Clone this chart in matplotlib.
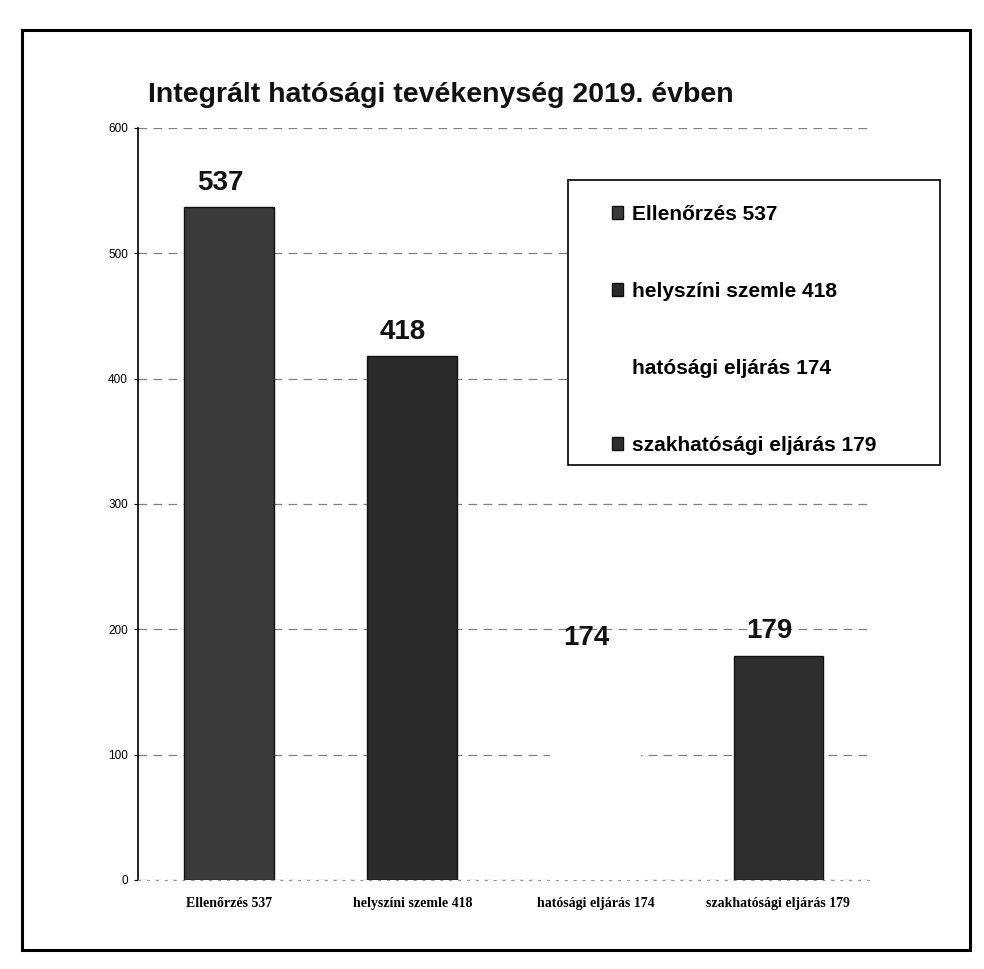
import matplotlib.pyplot as plt
from matplotlib.patches import Rectangle

# Activity counts for 2019
categories = ['Ellenőrzés 537', 'helyszíni szemle 418',
              'hatósági eljárás 174', 'szakhatósági eljárás 179']
values = [537, 418, 174, 179]
yticks = [0, 100, 200, 300, 400, 500, 600]

bar_colors = ['#3a3a3a', '#2a2a2a', 'white', '#2e2e2e']
edge_colors = ['#111111', '#111111', 'white', '#111111']

sans = ['Liberation Sans', 'DejaVu Sans']
serif = ['Liberation Serif', 'DejaVu Serif']

fig = plt.figure(figsize=(9.84, 9.69), dpi=100)
ax = fig.add_axes([0.140, 0.092, 0.744, 0.776])

x = range(len(categories))
bars = ax.bar(x, values, width=0.49, color=bar_colors, edgecolor=edge_colors,
              linewidth=1.0, zorder=3, label=categories)

# value labels above each bar
for xi, v in zip(x, values):
    ax.text(xi - 0.05, v + 9, str(v), ha='center', va='bottom', fontsize=20,
            fontweight='bold', family=sans, color='#111111', zorder=4)

ax.set_xlim(-0.5, 3.5)
ax.set_ylim(0, 600)
ax.set_yticks(yticks)
ax.set_yticklabels([str(t) for t in yticks], family=sans, fontsize=8.5)
ax.set_xticks(list(x))
ax.set_xticklabels(categories, family=serif, fontweight='bold', fontsize=10)
ax.tick_params(axis='x', length=0, pad=12)
ax.tick_params(axis='y', length=3, width=0.8, pad=4)

ax.yaxis.grid(True, color='#808080', linewidth=0.9, linestyle=(0, (7, 5)), zorder=0)
ax.set_axisbelow(True)
for side in ['top', 'right']:
    ax.spines[side].set_visible(False)
ax.spines['bottom'].set_color('#999999')
ax.spines['bottom'].set_linestyle((0, (2, 6)))
ax.spines['left'].set_linewidth(1.2)

# title
fig.text(0.150, 0.902, 'Integrált hatósági tevékenység 2019. évben',
         fontsize=20.5, fontweight='bold', family=sans, ha='left', va='center',
         color='#111111')

# legend: white box with border, entries set in from the left edge
box_l, box_t, box_r, box_b = 568, 180, 940, 465
ax.add_patch(Rectangle((box_l / 984, 1 - box_b / 969),
                       (box_r - box_l) / 984, (box_b - box_t) / 969,
                       transform=fig.transFigure, clip_on=False, facecolor='white',
                       edgecolor='black', linewidth=1.2, zorder=6))
leg = ax.legend(handles=list(bars), labels=categories, loc='upper left',
                bbox_to_anchor=((box_l + 22) / 984, 1 - (box_t + 3) / 969),
                bbox_transform=fig.transFigure, frameon=False,
                prop={'family': sans, 'weight': 'bold', 'size': 15},
                handlelength=0.55, handleheight=0.55, handletextpad=0.4,
                labelspacing=2.78, borderpad=1.05, borderaxespad=0)
leg.set_zorder(7)

# outer frame around the chart
fig.patches.append(Rectangle((22 / 984, 1 - 950 / 969), (970 - 22) / 984, (950 - 30) / 969,
                             transform=fig.transFigure, fill=False,
                             edgecolor='black', linewidth=2.2))

fig.savefig('out.png', dpi=100, facecolor='white')
